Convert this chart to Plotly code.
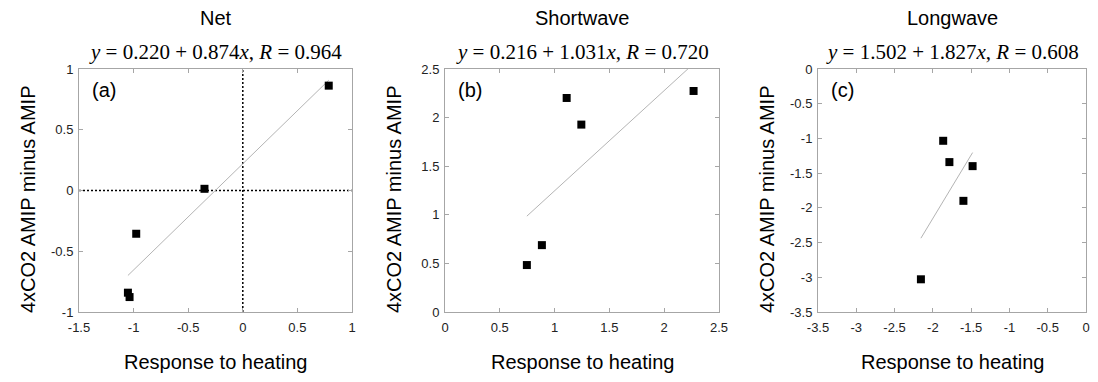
import plotly.graph_objects as go

# ---- data ----
panel_titles = ["Net", "Shortwave", "Longwave"]
panel_labels = ["(a)", "(b)", "(c)"]

net_x = [0.787, -0.351, -0.976, -1.052, -1.037]
net_y = [0.863, 0.014, -0.356, -0.841, -0.877]
sw_x = [0.747, 0.884, 1.110, 1.244, 2.268]
sw_y = [0.483, 0.688, 2.202, 1.928, 2.274]
lw_x = [-1.865, -1.784, -1.481, -1.601, -2.156]
lw_y = [-1.034, -1.341, -1.399, -1.899, -3.029]

fit_intercepts = [0.220, 0.216, 1.502]
fit_slopes = [0.874, 1.031, 1.827]
fit_r = [0.964, 0.720, 0.608]

x_ranges = [[-1.5, 1.0], [0.0, 2.5], [-3.5, 0.0]]
y_ranges = [[-1.0, 1.0], [0.0, 2.5], [-3.5, 0.0]]
net_xticks = [-1.5, -1.0, -0.5, 0.0, 0.5, 1.0]
net_yticks = [-1.0, -0.5, 0.0, 0.5, 1.0]
sw_ticks = [0.0, 0.5, 1.0, 1.5, 2.0, 2.5]
lw_ticks = [-3.5, -3.0, -2.5, -2.0, -1.5, -1.0, -0.5, 0.0]
x_ticks = [net_xticks, sw_ticks, lw_ticks]
y_ticks = [net_yticks, sw_ticks, lw_ticks]

x_title = "Response to heating"
y_title = "4xCO2 AMIP minus AMIP"

xs = [net_x, sw_x, lw_x]
ys = [net_y, sw_y, lw_y]

# ---- layout geometry (window pixels; page body has an 8px margin,
#      figure sized so the page never overflows the window) ----
OFF = 8
W, H = 1098 - 2 * OFF, 382 - 2 * OFF
plot_left = [79, 445, 818]
plot_right = [352, 719, 1086]
plot_top, plot_bottom = 69, 312

def px(p):
    return (p - OFF) / W

def py(p):
    return 1 - (p - OFF) / H

def fmt(v):
    return "%g" % v

fig = go.Figure()
SANS = "Liberation Sans, Arial, sans-serif"
SERIF = "Liberation Serif, DejaVu Serif, serif"
FRAME = "#a6a6a6"

annotations = []
shapes = []
for i in range(3):
    ax = "" if i == 0 else str(i + 1)
    xa, ya = "x" + ax, "y" + ax
    b = fit_intercepts[i]
    m = fit_slopes[i]
    x0, x1 = min(xs[i]), max(xs[i])
    fig.add_trace(go.Scatter(
        x=[x0, x1], y=[b + m * x0, b + m * x1], mode="lines",
        line=dict(color="#b4b4b4", width=1), xaxis=xa, yaxis=ya,
        showlegend=False, hoverinfo="skip"))
    fig.add_trace(go.Scatter(
        x=xs[i], y=ys[i], mode="markers",
        marker=dict(symbol="square", size=8, color="black", line=dict(width=0)),
        xaxis=xa, yaxis=ya, showlegend=False))

    dom_x = [px(plot_left[i]), px(plot_right[i])]
    dom_y = [py(plot_bottom), py(plot_top)]
    common = dict(showline=True, linecolor=FRAME, linewidth=1, mirror="ticks",
                  ticks="inside", ticklen=4, tickcolor=FRAME, tickwidth=1,
                  showgrid=False, zeroline=False, automargin=False,
                  ticklabeloverflow="allow",
                  tickfont=dict(family=SANS, size=13, color="#222"))
    fig.update_layout(**{
        "xaxis" + ax: dict(domain=dom_x, range=x_ranges[i], tickmode="array",
                           tickvals=x_ticks[i], ticktext=[fmt(v) for v in x_ticks[i]],
                           anchor=ya, ticklabelstandoff=3, **common),
        "yaxis" + ax: dict(domain=dom_y, range=y_ranges[i], tickmode="array",
                           tickvals=y_ticks[i], ticktext=[fmt(v) for v in y_ticks[i]],
                           anchor=xa, ticklabelstandoff=2, **common),
    })
    cx = px((plot_left[i] + plot_right[i]) / 2)
    annotations.append(dict(text=panel_titles[i], x=cx, y=py(18), xref="paper", yref="paper",
                            showarrow=False, xanchor="center", yanchor="middle",
                            font=dict(family=SANS, size=20, color="black")))
    eq = "<i>y</i> = %.3f + %.3f<i>x</i>, <i>R</i> = %.3f" % (b, m, fit_r[i])
    annotations.append(dict(text=eq, x=cx, y=py(52), xref="paper", yref="paper",
                            showarrow=False, xanchor="center", yanchor="middle",
                            font=dict(family=SERIF, size=21, color="black")))
    annotations.append(dict(text=x_title, x=cx, y=0, xref="paper", yref="paper",
                            showarrow=False, xanchor="center", yanchor="bottom",
                            borderpad=0,
                            font=dict(family=SANS, size=20, color="black")))
    annotations.append(dict(text=y_title, x=px(plot_left[i] - 51), y=py(199),
                            xref="paper", yref="paper", textangle=-90,
                            showarrow=False, xanchor="center", yanchor="middle",
                            font=dict(family=SANS, size=20, color="black")))
    annotations.append(dict(text=panel_labels[i], x=px(plot_left[i] + 11), y=py(90),
                            xref="paper", yref="paper",
                            showarrow=False, xanchor="left", yanchor="middle",
                            font=dict(family=SANS, size=20, color="black")))

# zero reference lines in panel (a)
shapes.append(dict(type="line", xref="x", yref="y", x0=0, x1=0, y0=y_ranges[0][0], y1=y_ranges[0][1],
                   line=dict(color="black", width=1.5, dash="2px,2px"), layer="below"))
shapes.append(dict(type="line", xref="x", yref="y", x0=x_ranges[0][0], x1=x_ranges[0][1], y0=0, y1=0,
                   line=dict(color="black", width=1.5, dash="2px,2px"), layer="below"))

fig.update_layout(width=W, height=H, margin=dict(l=0, r=0, t=0, b=0, autoexpand=False),
                  paper_bgcolor="white", plot_bgcolor="white",
                  annotations=annotations, shapes=shapes)

fig.write_html("out.html")
